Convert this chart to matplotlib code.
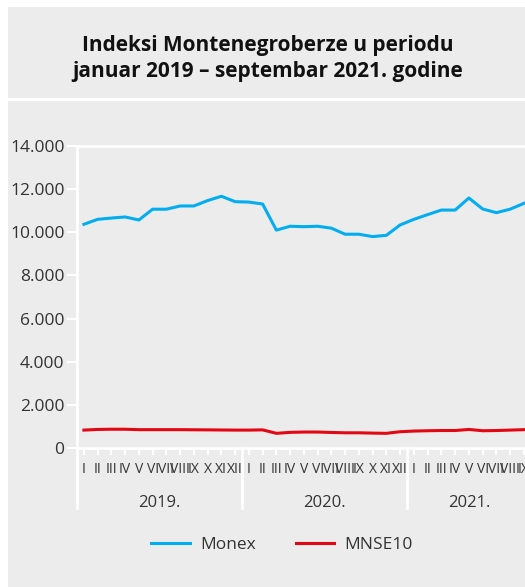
import numpy as np
import matplotlib
matplotlib.use('Agg')
import matplotlib.pyplot as plt
from matplotlib.patches import Rectangle
from matplotlib.lines import Line2D

plt.rcParams['font.family'] = ['Open Sans', 'DejaVu Sans']

months = ['I', 'II', 'III', 'IV', 'V', 'VI', 'VII', 'VIII', 'IX', 'X', 'XI', 'XII'] * 2 + \
         ['I', 'II', 'III', 'IV', 'V', 'VI', 'VII', 'VIII', 'IX']
years = ['2019.', '2020.', '2021.']
year_len = [12, 12, 9]

monex = [10370, 10600, 10660, 10710, 10570, 11070, 11070, 11220, 11220, 11470, 11670, 11420,
         11400, 11310, 10100, 10280, 10260, 10280, 10190, 9910, 9910, 9800, 9860, 10340,
         10600, 10820, 11030, 11030, 11590, 11080, 10910, 11070, 11340]
mnse10 = [830, 860, 870, 870, 850, 850, 850, 850, 845, 840, 835, 830,
          830, 840, 680, 725, 740, 740, 720, 705, 705, 690, 680, 755,
          785, 800, 810, 810, 860, 800, 810, 830, 850]

bg = '#ececec'
W, H = 525, 587
fig = plt.figure(figsize=(W / 100, H / 100), dpi=100)
fig.patch.set_facecolor('white')

# title box and chart panel
fig.add_artist(Rectangle((8 / W, 1 - 98 / H), 1, 91 / H, transform=fig.transFigure,
                         facecolor=bg, edgecolor='none', zorder=0))
fig.add_artist(Rectangle((8 / W, 0), 1, 1 - 101 / H, transform=fig.transFigure,
                         facecolor=bg, edgecolor='none', zorder=0))
fig.text(268 / W, 1 - 45 / H, 'Indeksi Montenegroberze u periodu', ha='center', va='center',
         fontsize=15, fontweight='bold', color='#111111')
fig.text(268 / W, 1 - 72 / H, 'januar 2019 – septembar 2021. godine', ha='center', va='center',
         fontsize=15, fontweight='bold', color='#111111')

ax = fig.add_axes([77 / W, 139 / H, 453.75 / W, 302 / H])
ax.set_facecolor(bg)
x = np.arange(len(monex))
ax.plot(x, monex, color='#00aeef', lw=2.2, label='Monex', clip_on=False)
ax.plot(x, mnse10, color='#e30613', lw=2.2, label='MNSE10', clip_on=False)

ax.set_xlim(-0.5, 32.5)
ax.set_ylim(0, 14000)
ax.set_yticks(range(0, 14001, 2000))
ax.set_yticklabels(['0'] + [f'{v // 1000}.000' for v in range(2000, 14001, 2000)])
ax.tick_params(axis='y', colors='white', length=7, width=1.5, pad=2,
               labelcolor='#333333', labelsize=12.5)
ax.set_xticks(x)
ax.set_xticklabels(months)
ax.tick_params(axis='x', colors='white', length=5, width=1.5, pad=5,
               labelcolor='#333333', labelsize=10)
for s in ['left', 'top', 'bottom']:
    ax.spines[s].set_color('white')
    ax.spines[s].set_linewidth(2)
ax.spines['right'].set_visible(False)

# year separators and labels below the axis
tr = ax.get_xaxis_transform()
start = 0
for yr, n in zip(years, year_len):
    ax.add_line(Line2D([start - 0.5, start - 0.5], [0, -0.2], transform=tr, color='white',
                       lw=2, clip_on=False))
    ax.text(start + n / 2 - 0.5, -0.183, yr, transform=tr, ha='center', va='center',
            fontsize=12, color='#333333')
    start += n

fig.legend(loc='center', bbox_to_anchor=(282 / W, 1 - 545 / H), ncol=2, frameon=False,
           fontsize=12.5, handlelength=2.2, columnspacing=2.3, handletextpad=0.6,
           labelcolor='#333333')

fig.savefig('out.png', dpi=100)
